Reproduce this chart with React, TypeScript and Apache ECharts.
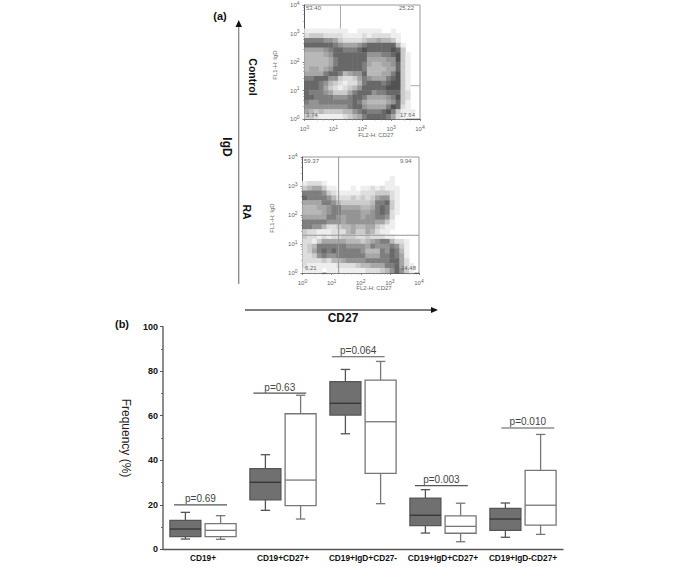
import React, { useEffect, useRef } from "react";
import * as echarts from "echarts";

const categories = ["CD19+", "CD19+CD27+", "CD19+IgD+CD27-", "CD19+IgD+CD27+", "CD19+IgD-CD27+"];
// [low, q1, median, q3, high]
const grayBoxes = [
  [4.6, 5.7, 9.1, 13, 16.6],
  [17.5, 22.2, 30.1, 36.2, 42.5],
  [51.9, 60.3, 65.6, 75.3, 80.8],
  [7.3, 10.6, 15.3, 23, 26.8],
  [5.4, 8.5, 13.6, 18.4, 20.8],
];
const whiteBoxes = [
  [4.5, 5.7, 8.5, 11.5, 15.1],
  [13.6, 19.6, 31.1, 60.9, 69.2],
  [20.5, 34.1, 57.3, 76, 84.4],
  [3.4, 7.2, 10.3, 15, 20.7],
  [6.7, 10.9, 19.8, 35.5, 51.6],
];
const pLabels = ["p=0.69", "p=0.63", "p=0.064", "p=0.003", "p=0.010"];
const pHeights = [20, 70.2, 86.5, 28.6, 54.5];
const pStarts = [0.1375, 1.13, 2.11, 3.15, 4.23];
const pEnds = [0.8, 1.79, 2.77, 3.81, 4.89];

const controlDensity = [
  "000000000000000000000000",
  "000000000000000000000000",
  "000000000000000000000000",
  "000000000000000000000000",
  "000000000000000000000000",
  "111111111001111100100000",
  "233322221111212222110000",
  "777766532222344544310000",
  "888888765556788888841000",
  "555567887778988888983000",
  "444456888888866677893100",
  "444445788888855556693100",
  "444445788888754455683100",
  "455456888888744445583100",
  "555578874566844455793100",
  "778886632235765557893100",
  "888764321224788878993100",
  "888753212346888889993100",
  "877765333578886778883200",
  "887777666788755556793200",
  "766777777787544445683100",
  "666666666788655557982100",
  "543433334467877789731110",
  "332111112345788887521000",
];
const raDensity = [
  "000000000000000000000000",
  "000000000000000000000000",
  "000000000000000000000000",
  "000000000000000000000000",
  "000000000000000000100000",
  "122210000000000001100000",
  "345531100010112121110000",
  "777763211111222333210000",
  "877776422232323566210000",
  "555577643333334778310000",
  "444556775555445787310000",
  "444456776666556787210000",
  "555557765666566776200000",
  "777776665666666553100000",
  "776642234454455321100000",
  "322111222453354211000000",
  "322121223332232221100000",
  "221355555444345677422100",
  "234777777666657666763100",
  "235787877777644476874100",
  "223676677777755577875100",
  "222232445666677777885200",
  "211111122223445557785210",
  "111101111111122234686310",
];

const controlGate = [17.6, 14.7];
const raGate = [17.4, 20];
const controlCorners = ["53.40", "25.22", "3.74", "17.64"];
const raCorners = ["59.37", "9.94", "6.21", "24.48"];
const cellNames = Array.from({ length: 24 }, (_, i) => String(i));

const greys = ["#ffffff", "#eeeeee", "#dddddd", "#cbcbcb", "#b8b8b8", "#a6a6a6", "#949494", "#7e7e7e", "#686868", "#525252"];

function densityData(rows: string[]) {
  const out: number[][] = [];
  rows.forEach((row, r) => {
    row.split("").forEach((ch, c) => {
      const v = Number(ch);
      if (v > 0) out.push([c, rows.length - 1 - r, v]);
    });
  });
  return out;
}

const FONT = "'Liberation Sans', Arial, sans-serif";

function renderBox(side: number, fill: string, stroke: string, median: string) {
  return (params: any, api: any) => {
    const cat = api.value(0);
    const [low, q1, med, q3, high] = [api.value(1), api.value(2), api.value(3), api.value(4), api.value(5)];
    const cx = api.coord([cat, 0])[0] + side * 17.6;
    const y = (v: number) => api.coord([cat, v])[1];
    const hw = 15.5;
    const cap = 4.7;
    const lineStyle = { stroke, lineWidth: 1.3, fill: "none" };
    const seg = (x1: number, y1: number, x2: number, y2: number, st: any = lineStyle) => ({
      type: "line",
      shape: { x1, y1, x2, y2 },
      style: st,
    });
    return {
      type: "group",
      children: [
        seg(cx, y(high), cx, y(q3)),
        seg(cx, y(q1), cx, y(low)),
        seg(cx - cap, y(high), cx + cap, y(high)),
        seg(cx - cap, y(low), cx + cap, y(low)),
        {
          type: "rect",
          shape: { x: cx - hw, y: y(q3), width: hw * 2, height: y(q1) - y(q3) },
          style: { fill, stroke, lineWidth: 1.3 },
        },
        seg(cx - hw, y(med), cx + hw, y(med), { stroke: median, lineWidth: 1.3 }),
      ],
    };
  };
}

function boxSeries(name: string, rows: number[][], side: number, fill: string, stroke: string, median: string) {
  return {
    type: "custom",
    name,
    xAxisIndex: 0,
    yAxisIndex: 0,
    silent: true,
    renderItem: renderBox(side, fill, stroke, median),
    encode: { x: 0, y: [1, 2, 3, 4, 5] },
    data: rows.map((r, i) => [i, ...r]),
  };
}

function exponentLabel(v: number) {
  const e = Math.round(Math.log10(v));
  return `{b|10}{s|${e}}`;
}

const logAxisCommon = {
  type: "log",
  logBase: 10,
  min: 1,
  max: 10000,
  splitLine: { show: false },
  axisLine: { show: true, onZero: false, lineStyle: { color: "#555", width: 1 } },
  axisTick: { show: true, length: 2, lineStyle: { color: "#555", width: 0.7 } },
  minorTick: { show: true, splitNumber: 5, length: 1.5, lineStyle: { color: "#777", width: 0.5 } },
  axisLabel: {
    color: "#666",
    fontFamily: FONT,
    margin: 5,
    hideOverlap: false,
    formatter: exponentLabel,
    rich: {
      b: { fontSize: 6, color: "#666", fontFamily: FONT },
      s: { fontSize: 5, color: "#666", fontFamily: FONT, padding: [0, 0, 5, 0] },
    },
  },
};

function hiddenCategory(gridIndex: number) {
  return { type: "category", gridIndex, data: cellNames, show: false };
}

const grids = [
  { left: 163, top: 326.7, width: 400, height: 222.6 },
  { left: 304.5, top: 4, width: 115.5, height: 115, show: true, borderColor: "#999", borderWidth: 1 },
  { left: 302.5, top: 157, width: 116.5, height: 116, show: true, borderColor: "#999", borderWidth: 1 },
];

function gateLines(gate: number[], xi: number, yi: number, z: number, color: string) {
  return {
    type: "line",
    xAxisIndex: xi,
    yAxisIndex: yi,
    silent: true,
    z,
    symbol: "none",
    connectNulls: false,
    lineStyle: { color, width: 1 },
    data: [[gate[0], 10000], [gate[0], 1], null, [10000, gate[1]], [1, gate[1]]],
  };
}

function heat(rows: string[], xi: number, yi: number) {
  return {
    type: "heatmap",
    xAxisIndex: xi,
    yAxisIndex: yi,
    silent: true,
    z: 2,
    data: densityData(rows),
    progressive: 0,
    itemStyle: { borderWidth: 0 },
  };
}

function small(text: string, x: number, y: number, extra: any = {}) {
  return {
    type: "text",
    x,
    y,
    silent: true,
    z: 20,
    style: { text, fontSize: 6, fill: "#666", fontFamily: FONT, ...extra },
  };
}

function bold(text: string, x: number, y: number, fontSize: number, rotation = 0) {
  return {
    type: "text",
    x,
    y,
    rotation,
    silent: true,
    z: 20,
    style: { text, fontSize, fontWeight: "bold", fill: "#111", fontFamily: FONT, textAlign: "center", textVerticalAlign: "middle" },
  };
}

export default function App() {
  const ref = useRef<HTMLDivElement>(null);
  useEffect(() => {
    const chart = echarts.init(ref.current!, null, { renderer: "svg" });
    chart.setOption({
      animation: false,
      backgroundColor: "#fff",
      textStyle: { fontFamily: FONT },
      grid: grids,
      xAxis: [
        {
          type: "category",
          gridIndex: 0,
          data: categories,
          axisLine: { lineStyle: { color: "#555", width: 1.3 } },
          axisTick: { alignWithLabel: true, length: 3, lineStyle: { color: "#555", width: 1 } },
          axisLabel: { color: "#111", fontSize: 8.3, fontWeight: "bold", margin: 5, interval: 0, fontFamily: FONT },
        },
        { type: "value", gridIndex: 0, min: 0, max: 5, show: false },
        hiddenCategory(1),
        { ...logAxisCommon, gridIndex: 1, position: "bottom" },
        hiddenCategory(2),
        { ...logAxisCommon, gridIndex: 2, position: "bottom" },
      ],
      yAxis: [
        {
          type: "value",
          gridIndex: 0,
          min: 0,
          max: 100,
          interval: 20,
          name: "Frequency (%)",
          nameLocation: "middle",
          nameRotate: -90,
          nameGap: 28,
          nameTextStyle: { fontSize: 12, color: "#222", fontFamily: FONT, padding: [0, 0, 0, 0] },
          splitLine: { show: false },
          axisLine: { show: true, lineStyle: { color: "#666", width: 1.5 } },
          axisTick: { show: true, length: 3, lineStyle: { color: "#555", width: 1 } },
          minorTick: { show: true, splitNumber: 2, length: 2, lineStyle: { color: "#666", width: 1 } },
          axisLabel: { color: "#111", fontSize: 9, fontWeight: "bold", margin: 5, fontFamily: FONT },
        },
        hiddenCategory(1),
        { ...logAxisCommon, gridIndex: 1, position: "left" },
        hiddenCategory(2),
        { ...logAxisCommon, gridIndex: 2, position: "left" },
      ],
      visualMap: {
        show: false,
        type: "piecewise",
        seriesIndex: [4, 5],
        pieces: greys.map((color, i) => ({ value: i, color })),
      },
      series: [
        boxSeries("Control", grayBoxes, -1, "#707070", "#555555", "#333333"),
        boxSeries("RA", whiteBoxes, 1, "#ffffff", "#777777", "#777777"),
        {
          type: "custom",
          name: "p values",
          xAxisIndex: 1,
          yAxisIndex: 0,
          silent: true,
          encode: { x: [0, 1], y: 2 },
          data: pLabels.map((label, i) => [pStarts[i], pEnds[i], pHeights[i], label]),
          renderItem: (params: any, api: any) => {
            const a = api.coord([api.value(0), api.value(2)]);
            const b = api.coord([api.value(1), api.value(2)]);
            return {
              type: "group",
              children: [
                { type: "line", shape: { x1: a[0], y1: a[1], x2: b[0], y2: b[1] }, style: { stroke: "#555", lineWidth: 1.2 } },
                {
                  type: "text",
                  x: (a[0] + b[0]) / 2,
                  y: a[1] - 1,
                  style: {
                    text: pLabels[params.dataIndex],
                    fontSize: 10,
                    fill: "#444",
                    fontFamily: FONT,
                    textAlign: "center",
                    textVerticalAlign: "bottom",
                  },
                },
              ],
            };
          },
        },
        gateLines(controlGate, 3, 2, 1, "#aaa"),
        heat(controlDensity, 2, 1),
        heat(raDensity, 4, 3),
        gateLines(raGate, 5, 4, 3, "#999"),
      ],
      graphic: [
        small(controlCorners[0], 306, 5),
        small(controlCorners[1], 399, 5),
        small(controlCorners[2], 306, 112),
        small(controlCorners[3], 400, 112),
        small(raCorners[0], 304, 158),
        small(raCorners[1], 400, 158),
        small(raCorners[2], 305, 265),
        small(raCorners[3], 401, 265),
        small("FL2-H: CD27", 376, 132, { textAlign: "center" }),
        small("FL2-H: CD27", 374, 285, { textAlign: "center" }),
        { ...small("FL1-H: IgD", 275, 65, { textAlign: "center", textVerticalAlign: "middle" }), rotation: Math.PI / 2 },
        { ...small("FL1-H: IgD", 272, 218, { textAlign: "center", textVerticalAlign: "middle" }), rotation: Math.PI / 2 },
        bold("(a)", 220, 16, 11),
        bold("(b)", 122, 324, 11),
        bold("Control", 253, 77, 10.5, -Math.PI / 2),
        bold("RA", 247, 212, 10.5, -Math.PI / 2),
        bold("IgD", 227, 147, 12, -Math.PI / 2),
        bold("CD27", 343, 318, 12),
        { type: "line", silent: true, shape: { x1: 238.7, y1: 26, x2: 238.7, y2: 284 }, style: { stroke: "#888", lineWidth: 1.3 } },
        { type: "polygon", silent: true, shape: { points: [[238.7, 20], [235.5, 27], [242, 27]] }, style: { fill: "#111" } },
        { type: "line", silent: true, shape: { x1: 245, y1: 310, x2: 432, y2: 310 }, style: { stroke: "#555", lineWidth: 1.3 } },
        { type: "polygon", silent: true, shape: { points: [[438, 310], [431, 307], [431, 313]] }, style: { fill: "#111" } },
      ],
    });
    return () => chart.dispose();
  }, []);
  return <div ref={ref} style={{ position: "fixed", left: 0, top: 0, width: 685, height: 567 }} />;
}
